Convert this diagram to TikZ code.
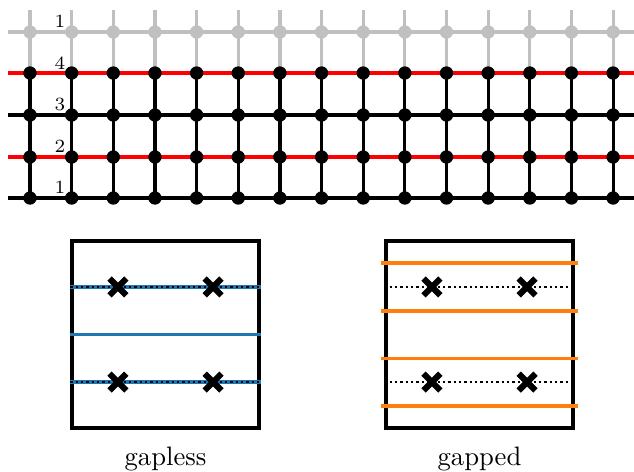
\documentclass[tikz,border=0pt]{standalone}
\usepackage{tikz}
\usetikzlibrary{calc, shapes.misc}

\definecolor{tabblue}{HTML}{1F77B4}
\definecolor{taborange}{HTML}{FF7F0E}
\definecolor{ghostgray}{RGB}{192,192,192}

\begin{document}
\begin{tikzpicture}[
        x=0.375pt, y=-0.375pt,
        site/.style={circle, fill, inner sep=0pt, minimum size=5pt},
        ghost/.style={site, fill=ghostgray},
        bond/.style={line width=1.2pt},
        num/.style={font=\scriptsize, inner sep=0pt},
        panel/.style={draw, line width=1.25pt, minimum size=70.1pt, inner sep=0pt},
        chain/.style={line width=1.35pt},
        spins/.style={line width=0.8pt, dash pattern=on 0.8pt off 1.2pt},
        defect/.style={cross out, draw, line width=2.3pt, minimum size=4pt, inner sep=0pt}
    ]
        \useasboundingbox (0,0) rectangle (634,471);

        % Ladder: rows 1..4 plus a greyed copy of row 1 on top
        \foreach \r/\y in {1/198, 2/157, 3/115, 4/73, 5/32} {
            \coordinate (w\r) at (8,\y);
            \coordinate (e\r) at (634,\y);
            \foreach \i in {0,...,14}
                \coordinate (c\i-\r) at ({30+41.65*\i},\y);
        }
        \foreach \i in {0,...,14}
            \coordinate (t\i) at ({30+41.65*\i},10);

        % Horizontal bonds
        \draw[bond, black] (w1) -- (e1);
        \draw[bond, red] (w2) -- (e2);
        \draw[bond, black] (w3) -- (e3);
        \draw[bond, red] (w4) -- (e4);
        \draw[bond, ghostgray] (w5) -- (e5);

        % Vertical bonds
        \foreach \i in {0,...,14} {
            \draw[bond, black] (c\i-1) -- (c\i-4);
            \draw[bond, ghostgray] (t\i) -- (c\i-4);
        }

        % Sites
        \foreach \i in {0,...,14} {
            \foreach \r in {1,...,4}
                \node[site] (s\i-\r) at (c\i-\r) {};
            \node[ghost] (g\i) at (c\i-5) {};
        }

        % Row labels
        \node[num] (n1) at (60,187) {1};
        \node[num] (n2) at (60,146) {2};
        \node[num] (n3) at (60,104) {3};
        \node[num] (n4) at (60,63) {4};
        \node[num] (n5) at (60,21) {1};

        % Gapless panel
        \node[panel] (gapless) at (165.5,334.5) {};
        \foreach \f/\k in {0.25/a, 0.5/b, 0.75/c} {
            \coordinate (lw\k) at ($(gapless.north west)!\f!(gapless.south west)$);
            \coordinate (le\k) at ($(gapless.north east)!\f!(gapless.south east)$);
            \draw[chain, tabblue] (lw\k) -- (le\k);
        }
        \draw[spins] (lwa) -- (lea);
        \draw[spins] (lwc) -- (lec);
        \node[defect] (xa1) at ($(lwa)!0.25!(lea)$) {};
        \node[defect] (xa2) at ($(lwa)!0.75!(lea)$) {};
        \node[defect] (xc1) at ($(lwc)!0.25!(lec)$) {};
        \node[defect] (xc2) at ($(lwc)!0.75!(lec)$) {};
        \node (capgapless) at (165.5,459) {gapless};

        % Gapped panel
        \node[panel] (gapped) at (479.5,334.5) {};
        \foreach \f/\k in {0.125/a, 0.375/b, 0.625/c, 0.875/d} {
            \coordinate (rw\k) at ($(gapped.north west)!\f!(gapped.south west) + (-3,0)$);
            \coordinate (re\k) at ($(gapped.north east)!\f!(gapped.south east) + (3,0)$);
            \draw[chain, taborange] (rw\k) -- (re\k);
        }
        \foreach \f/\k in {0.25/a, 0.75/b} {
            \coordinate (dw\k) at ($(gapped.north west)!\f!(gapped.south west)$);
            \coordinate (de\k) at ($(gapped.north east)!\f!(gapped.south east)$);
            \draw[spins] (dw\k) -- (de\k);
        }
        \node[defect] (ya1) at ($(dwa)!0.25!(dea)$) {};
        \node[defect] (ya2) at ($(dwa)!0.75!(dea)$) {};
        \node[defect] (yb1) at ($(dwb)!0.25!(deb)$) {};
        \node[defect] (yb2) at ($(dwb)!0.75!(deb)$) {};
        \node (capgapped) at (479.5,459) {gapped};
\end{tikzpicture}
\end{document}
